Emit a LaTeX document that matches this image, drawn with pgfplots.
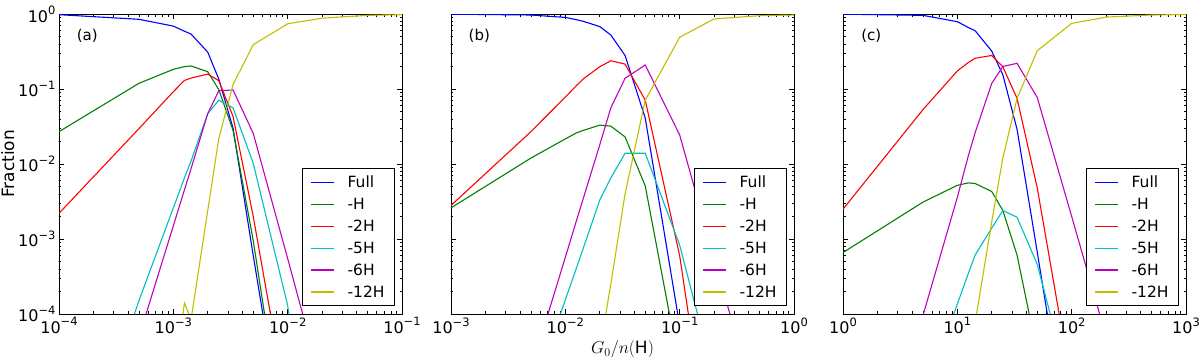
\documentclass[border=0pt]{standalone}
\usepackage{fontspec}
\setmainfont{DejaVu Sans}
\usepackage{pgfplots}
\pgfplotsset{compat=1.18}

\definecolor{mb}{rgb}{0,0,1}
\definecolor{mg}{rgb}{0,0.5,0}
\definecolor{mr}{rgb}{1,0,0}
\definecolor{mc}{rgb}{0,0.75,0.75}
\definecolor{mm}{rgb}{0.75,0,0.75}
\definecolor{my}{rgb}{0.75,0.75,0}

% 10^k tick label in the text font
\newcommand{\tp}[1]{\mbox{10\raisebox{0.48em}{\fontsize{11.5}{12}\selectfont #1}}}

\pgfplotsset{/pgfplots/mypanel/.style={
    scale only axis, width=343pt, height=300pt, anchor=south west,
    ymin=1e-4, ymax=1,
    ytick={1e-4,1e-3,1e-2,1e-1,1},
    axis line style={line width=0.8pt},
    tick style={black, line width=0.6pt},
    major tick length=5pt, minor tick length=2.5pt,
    tick label style={font=\fontsize{16}{19}\selectfont},
    label style={font=\fontsize{17}{20}\selectfont},
    ylabel shift=-3pt,
    every axis plot/.append style={line width=1.1pt},
    legend cell align=left,
    legend image code/.code={\draw[##1, line width=1.2pt] (0pt,0pt) -- (23pt,0pt);},
    legend style={font=\fontsize{15.5}{18}\selectfont, at={(1,0)}, anchor=south east,
        xshift=-7pt, yshift=8pt, draw=black, line width=0.8pt,
        row sep=5pt, inner xsep=8pt, inner ysep=5pt,
        /tikz/every odd column/.append style={column sep=11pt}}
}}

\begin{document}
\begin{tikzpicture}
\useasboundingbox (0,0) rectangle (1200pt,358pt);

% ---------- (a) ----------
\begin{loglogaxis}[mypanel, at={(59pt,44pt)}, xmin=1e-4, xmax=1e-1,
    xtick={1e-4,1e-3,1e-2,1e-1}, xticklabels={\tp{−4},\tp{−3},\tp{−2},\tp{−1}},
    yticklabels={\tp{−4},\tp{−3},\tp{−2},\tp{−1},\tp{0}},
    ylabel={Fraction}]
\addplot[mb] coordinates {(1e-4,0.98)(5e-4,0.85)(1e-3,0.69)(1.25e-3,0.59)(1.43e-3,0.54)
    (2e-3,0.31)(2.5e-3,0.135)(3.33e-3,0.03)(5e-3,6e-4)(1e-2,1e-6)};
\addlegendentry{Full}
\addplot[mg] coordinates {(1e-4,0.027)(5e-4,0.119)(1e-3,0.183)(1.25e-3,0.199)(1.43e-3,0.203)
    (2e-3,0.17)(2.5e-3,0.098)(3.33e-3,0.028)(5e-3,9.5e-4)(1e-2,1e-6)};
\addlegendentry{-H}
\addplot[mr] coordinates {(1e-4,2.2e-3)(5e-4,0.0296)(1e-3,0.092)(1.25e-3,0.13)(1.43e-3,0.14)
    (2e-3,0.158)(2.5e-3,0.129)(3.33e-3,0.043)(5e-3,2e-3)(1e-2,5e-6)};
\addlegendentry{-2H}
\addplot[mc] coordinates {(1e-4,1e-7)(5e-4,1.5e-4)(1e-3,2.6e-3)(1.25e-3,6.5e-3)(1.43e-3,0.011)
    (2e-3,0.047)(2.5e-3,0.071)(3.33e-3,0.056)(5e-3,0.0102)(1e-2,1.3e-4)(2e-2,1e-7)};
\addlegendentry{-5H}
\addplot[mm] coordinates {(1e-4,1e-8)(5e-4,4.9e-5)(1e-3,1.5e-3)(1.25e-3,4.5e-3)(1.43e-3,8.7e-3)
    (2e-3,0.047)(2.5e-3,0.095)(3.33e-3,0.097)(5e-3,0.0256)(1e-2,5.5e-4)(2e-2,1.1e-5)(5e-2,1e-8)};
\addlegendentry{-6H}
\addplot[my] coordinates {(1e-3,1e-5)(1.25e-3,1.4e-4)(1.43e-3,8.5e-5)(2e-3,2.4e-3)(2.5e-3,0.022)
    (3.33e-3,0.115)(5e-3,0.39)(1e-2,0.74)(2e-2,0.88)(5e-2,0.96)(1e-1,0.98)};
\addlegendentry{-12H}
\node[font=\fontsize{15}{18}\selectfont] at (rel axis cs:0.0825,0.927) {(a)};
\end{loglogaxis}

% ---------- (b) ----------
\begin{loglogaxis}[mypanel, at={(451pt,44pt)}, xmin=1e-3, xmax=1,
    xtick={1e-3,1e-2,1e-1,1}, xticklabels={\tp{−3},\tp{−2},\tp{−1},\tp{0}},
    yticklabels={},
    xlabel={$G_0/n(\mathrm{H})$}]
\addplot[mb] coordinates {(1e-3,0.995)(5e-3,0.97)(1e-2,0.90)(1.25e-2,0.84)(1.43e-2,0.80)
    (2e-2,0.68)(2.5e-2,0.525)(3.33e-2,0.28)(5e-2,0.041)(1e-1,7e-5)(2e-1,1e-8)};
\addlegendentry{Full}
\addplot[mg] coordinates {(1e-3,2.6e-3)(5e-3,0.012)(1e-2,0.0216)(1.25e-2,0.026)(1.43e-2,0.028)
    (2e-2,0.033)(2.5e-2,0.032)(3.33e-2,0.023)(5e-2,5.1e-3)(1e-1,1.9e-5)};
\addlegendentry{-H}
\addplot[mr] coordinates {(1e-3,2.8e-3)(5e-3,0.027)(1e-2,0.078)(1.25e-2,0.111)(1.43e-2,0.136)
    (2e-2,0.198)(2.5e-2,0.238)(3.33e-2,0.215)(5e-2,0.071)(1e-1,6e-4)(2e-1,5e-7)};
\addlegendentry{-2H}
\addplot[mc] coordinates {(5e-3,7e-6)(1e-2,1.55e-4)(1.25e-2,4.1e-4)(1.43e-2,7.4e-4)
    (2e-2,3.3e-3)(2.5e-2,6.5e-3)(3.33e-2,0.0139)(5e-2,0.0139)(1e-1,8.3e-4)(2e-1,1.4e-5)};
\addlegendentry{-5H}
\addplot[mm] coordinates {(5e-3,1.8e-5)(1e-2,5.7e-4)(1.25e-2,1.75e-3)(1.43e-2,3.4e-3)
    (2e-2,0.018)(2.5e-2,0.056)(3.33e-2,0.139)(5e-2,0.209)(1e-1,0.0244)(2e-1,5.6e-4)(5e-1,4e-6)};
\addlegendentry{-6H}
\addplot[my] coordinates {(1.43e-2,1e-6)(2e-2,3.3e-5)(2.5e-2,2.5e-4)(3.33e-2,4e-3)(5e-2,0.071)
    (1e-1,0.49)(2e-1,0.86)(5e-1,0.95)(1,0.97)};
\addlegendentry{-12H}
\node[font=\fontsize{15}{18}\selectfont] at (rel axis cs:0.0825,0.927) {(b)};
\end{loglogaxis}

% ---------- (c) ----------
\begin{loglogaxis}[mypanel, at={(843pt,44pt)}, xmin=1, xmax=1e3,
    xtick={1,1e1,1e2,1e3}, xticklabels={\tp{0},\tp{1},\tp{2},\tp{3}},
    yticklabels={}]
\addplot[mb] coordinates {(1,0.995)(5,0.96)(10,0.79)(12.5,0.66)(14.3,0.6)(20,0.32)
    (25,0.155)(33.3,0.029)(50,6.7e-4)(100,1e-6)};
\addlegendentry{Full}
\addplot[mg] coordinates {(1,6.6e-4)(5,3.1e-3)(10,5.2e-3)(12.5,5.6e-3)(14.3,5.5e-3)(20,4.3e-3)
    (25,2.4e-3)(33.3,6.1e-4)(50,3e-5)(100,1e-8)};
\addlegendentry{-H}
\addplot[mr] coordinates {(1,2.5e-3)(5,0.053)(10,0.174)(12.5,0.226)(14.3,0.257)(20,0.28)
    (25,0.198)(33.3,0.075)(50,4.8e-3)(100,1.1e-5)};
\addlegendentry{-2H}
\addplot[mc] coordinates {(5,7e-6)(10,1.36e-4)(12.5,3.5e-4)(14.3,6.1e-4)(20,1.4e-3)
    (25,2.4e-3)(33.3,1.95e-3)(50,4.6e-4)(100,8e-6)};
\addlegendentry{-5H}
\addplot[mm] coordinates {(1,1e-7)(5,9.5e-5)(10,3.6e-3)(12.5,0.013)(14.3,0.026)(20,0.119)
    (25,0.2)(33.3,0.22)(50,0.077)(100,2e-3)(200,5e-5)(500,1e-8)};
\addlegendentry{-6H}
\addplot[my] coordinates {(10,1e-6)(12.5,2.2e-5)(14.3,7.6e-5)(20,1.7e-3)(25,0.012)(33.3,0.075)
    (50,0.324)(100,0.75)(200,0.91)(500,0.97)(1000,0.985)};
\addlegendentry{-12H}
\node[font=\fontsize{15}{18}\selectfont] at (rel axis cs:0.0825,0.927) {(c)};
\end{loglogaxis}
\end{tikzpicture}
\end{document}
